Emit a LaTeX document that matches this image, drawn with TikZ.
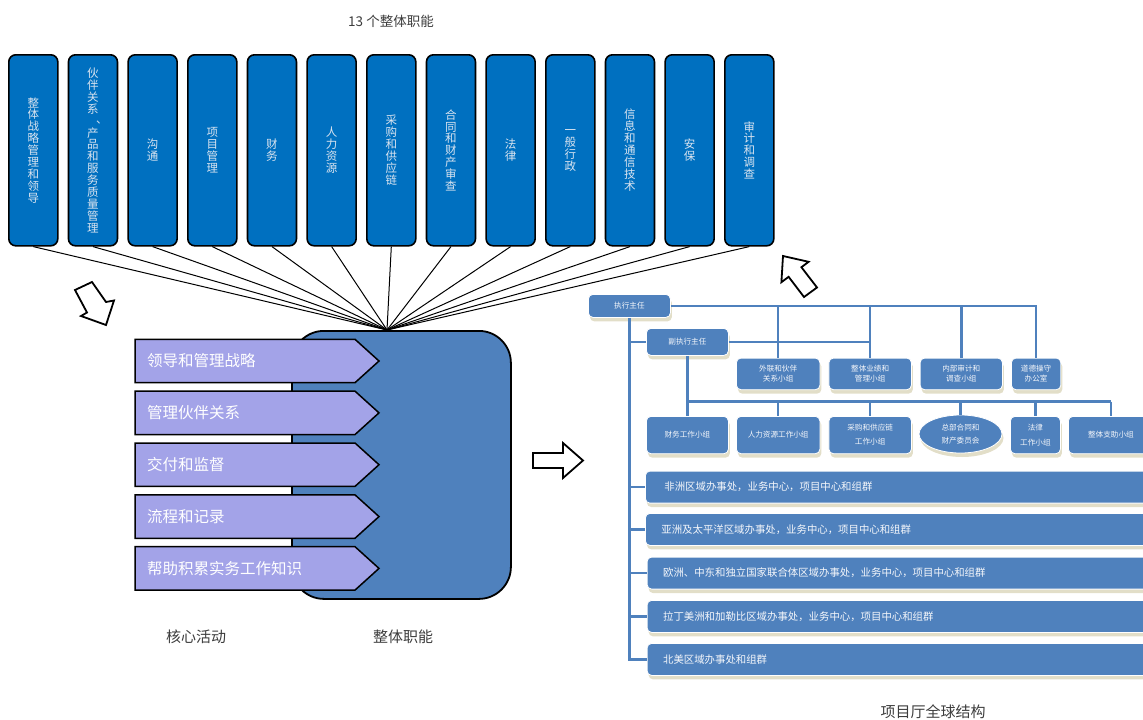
\documentclass[tikz,border=0pt]{standalone}
\usepackage{fontspec}
\newfontfamily\cjk{Noto Sans CJK SC}
\usetikzlibrary{shapes.geometric,shadows}

\definecolor{fnblue}{RGB}{0,112,192}
\definecolor{orgblue}{RGB}{79,129,189}
\definecolor{chevfill}{RGB}{163,163,232}
\definecolor{capgray}{RGB}{60,60,60}
\definecolor{boxtext}{RGB}{218,228,240}
\definecolor{shade}{RGB}{226,222,200}

\tikzset{
  fnbox/.style={draw=black, line width=1.6pt, fill=fnblue, rounded corners=7pt,
    minimum width=49pt, minimum height=191pt, anchor=north west, inner sep=0pt,
    text=boxtext, align=center, font=\cjk\fontsize{11.5pt}{11.9pt}\selectfont},
  spoke/.style={line width=1pt, draw=black},
  corebox/.style={draw=black, line width=1.8pt, fill=orgblue, rounded corners=32pt,
    minimum width=219pt, minimum height=268pt, anchor=north west, inner sep=0pt},
  chev/.style={draw=black, line width=1.5pt, fill=chevfill, line join=miter},
  chevtext/.style={text=white, font=\cjk\fontsize{15.5pt}{18pt}\selectfont,
    anchor=west, inner sep=0pt},
  caption/.style={text=capgray, font=\cjk\fontsize{15pt}{18pt}\selectfont, inner sep=0pt},
  blockarrow/.style={draw=black, line width=1.8pt, fill=white, line join=miter},
  orgbox/.style={fill=orgblue, draw=white, line width=0.8pt, rounded corners=4.5pt,
    anchor=north west, inner sep=0pt, text=white!94!orgblue, align=center,
    font=\cjk\fontsize{7.6pt}{10pt}\selectfont,
    drop shadow={shadow xshift=1.5pt, shadow yshift=-4pt, fill=shade, opacity=1}},
  orgoval/.style={orgbox, ellipse, anchor=center, rounded corners=0pt},
  regionbar/.style={orgbox, align=left, minimum height=32pt, text width=478pt,
    inner xsep=16pt, font=\cjk\fontsize{10.4pt}{12pt}\selectfont},
  orgline/.style={draw=orgblue, line width=2.6pt},
}
% enumeration comma set beside the character above it
\newcommand{\sidecomma}{\makebox[11.5pt][l]{\hspace{9pt}\raisebox{2pt}{、}}}

\begin{document}
\begin{tikzpicture}[x=1pt,y=-1pt]
\useasboundingbox (0,0) rectangle (1143,720);

% ---------- the thirteen function columns ----------
\node[text=capgray, font=\cjk\fontsize{13.5pt}{16pt}\selectfont, inner sep=0pt] (title) at (391,21) {13 个整体职能};

\node[fnbox] (fn1)  at (8,54)      {整\\体\\战\\略\\管\\理\\和\\领\\导};
\node[fnbox] (fn2)  at (67.67,54)  {伙\\伴\\关\\系\\\sidecomma\\产\\品\\和\\服\\务\\质\\量\\管\\理};
\node[fnbox] (fn3)  at (127.33,54) {沟\\通};
\node[fnbox] (fn4)  at (187,54)    {项\\目\\管\\理};
\node[fnbox] (fn5)  at (246.67,54) {财\\务};
\node[fnbox] (fn6)  at (306.33,54) {人\\力\\资\\源};
\node[fnbox] (fn7)  at (366,54)    {采\\购\\和\\供\\应\\链};
\node[fnbox] (fn8)  at (425.67,54) {合\\同\\和\\财\\产\\审\\查};
\node[fnbox] (fn9)  at (485.33,54) {法\\律};
\node[fnbox] (fn10) at (545,54)    {一\\般\\行\\政};
\node[fnbox] (fn11) at (604.67,54) {信\\息\\和\\通\\信\\技\\术};
\node[fnbox] (fn12) at (664.33,54) {安\\保};
\node[fnbox] (fn13) at (724,54)    {审\\计\\和\\调\\查};

% ---------- core block with the activity chevrons ----------
\node[corebox] (core) at (291,330) {};
\coordinate (hub) at (387,330);
\foreach \i in {1,...,13} \draw[spoke] (fn\i.south) -- (hub);

\foreach \k/\label in {0/领导和管理战略, 1/管理伙伴关系, 2/交付和监督, 3/流程和记录, 4/帮助积累实务工作知识} {
  \pgfmathsetmacro{\top}{339.3+51.85*\k}
  \draw[chev] (135,\top) -- (355,\top) -- (379,\top+21.7) -- (355,\top+43.4) -- (135,\top+43.4) -- cycle;
  \node[chevtext] (act\k) at (147,\top+21.7) {\label};
}

\node[caption] (capcore) at (196,637) {核心活动};
\node[caption] (capfn) at (403,637) {整体职能};

% ---------- block arrows ----------
\draw[blockarrow] (75,290) -- (92,282) -- (106,302) -- (114,300.5) -- (106,325) -- (81,316) -- (87,312.5) -- cycle;
\draw[blockarrow] (533,453) -- (563,453) -- (563,443) -- (583,460.5) -- (563,478) -- (563,468) -- (533,468) -- cycle;
\draw[blockarrow] (783,256) -- (808.6,261.8) -- (801.4,267.2) -- (817,287.5) -- (804,297) -- (788.6,276.8) -- (781.4,282.2) -- cycle;

% ---------- organisation chart ----------
\node[orgbox, minimum width=82pt, minimum height=23pt] (exec) at (588,294) {执行主任};
\node[orgbox, minimum width=82pt, minimum height=27pt] (dep) at (646,328) {副执行主任};

\node[orgbox, minimum width=83.5pt, minimum height=31.6pt] (extl) at (736,357.7) {外联和伙伴\\关系小组};
\node[orgbox, minimum width=82.5pt, minimum height=31.6pt] (perf) at (828.5,357.7) {整体业绩和\\管理小组};
\node[orgbox, minimum width=82.3pt, minimum height=31.6pt] (audit) at (919.7,357.7) {内部审计和\\调查小组};
\node[orgbox, minimum width=49.4pt, minimum height=31.6pt] (ethics) at (1011,357.7) {道德操守\\办公室};

\node[orgbox, minimum width=82pt, minimum height=37.3pt] (fin) at (646,416) {财务工作小组};
\node[orgbox, minimum width=83.5pt, minimum height=37.3pt] (hr) at (736,416) {人力资源工作小组};
\node[orgbox, minimum width=82.5pt, minimum height=37.3pt] (proc) at (828.5,416) {采购和供应链\\[4pt]工作小组};
\node[orgoval, minimum width=83pt, minimum height=38pt] (ctte) at (960.5,434) {总部合同和\\[3pt]财产委员会};
\node[orgbox, minimum width=50pt, minimum height=37.3pt] (legal) at (1010,416) {法律\\[5pt]工作小组};
\node[orgbox, minimum width=85pt, minimum height=37.3pt] (supp) at (1068,416) {整体支助小组};

\node[regionbar, inner xsep=19pt] (r1) at (645,470.7) {非洲区域办事处，业务中心，项目中心和组群};
\node[regionbar] (r2) at (645,513) {亚洲及太平洋区域办事处，业务中心，项目中心和组群};
\node[regionbar] (r3) at (646.7,556.7) {欧洲、中东和独立国家联合体区域办事处，业务中心，项目中心和组群};
\node[regionbar] (r4) at (646.7,600) {拉丁美洲和加勒比区域办事处，业务中心，项目中心和组群};
\node[regionbar] (r5) at (646.7,643) {北美区域办事处和组群};

% executive director line to the top-row units
\draw[orgline] (exec.east) -- (ethics.north |- exec.east) -- (ethics.north);
\foreach \u in {extl,perf,audit} \draw[orgline] (\u.north |- exec.east) -- (\u.north);
% deputy to the middle units
\draw[orgline] (dep.east) -- (perf.north |- dep.east);
% deputy to the working groups
\coordinate (bus) at (0,401.7);
\draw[orgline] (dep.south) -- (fin.north);
\draw[orgline] (dep.south |- bus) -- (supp.north |- bus);
\foreach \u in {hr,proc,ctte,legal,supp} \draw[orgline] (\u.north |- bus) -- (\u.north);
% main trunk down to the regions
\draw[orgline] (exec.south) -- (exec.south |- r5.west) -- (r5.west);
\draw[orgline] (exec.south |- dep.west) -- (dep.west);
\foreach \r in {r1,r2,r3,r4} \draw[orgline] (exec.south |- \r.west) -- (\r.west);

\node[caption] (caporg) at (933,712) {项目厅全球结构};
\end{tikzpicture}
\end{document}
